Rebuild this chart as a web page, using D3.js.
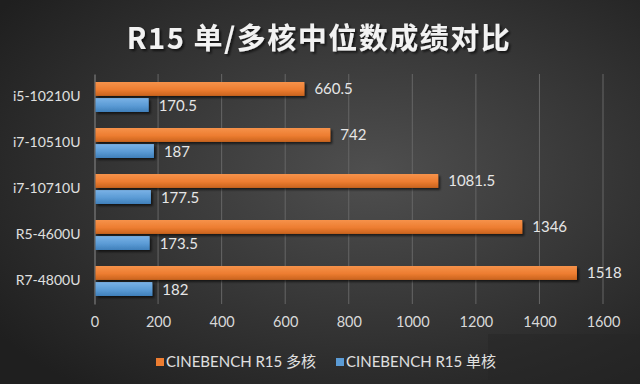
<!DOCTYPE html>
<html><head><meta charset="utf-8">
<script src="https://cdn.jsdelivr.net/npm/d3@7"></script>
<style>body{margin:0;background:#2a2a2a;}svg{display:block;}</style>
</head><body>
<svg id="c" width="640" height="384"></svg>
<script>
const categories = ["i5-10210U","i7-10510U","i7-10710U","R5-4600U","R7-4800U"];
const multiCore = [660.5, 742, 1081.5, 1346, 1518];
const singleCore = [170.5, 187, 177.5, 173.5, 182];
const multiLabels = ["660.5","742","1081.5","1346","1518"];
const singleLabels = ["170.5","187","177.5","173.5","182"];
const seriesNames = ["CINEBENCH R15 多核","CINEBENCH R15 单核"];
const xTicks = [0,200,400,600,800,1000,1200,1400,1600];
const title = "R15 单/多核中位数成绩对比";

const svg = d3.select("#c");
const W = 640, H = 384;
const defs = svg.append("defs");
const rg = defs.append("radialGradient").attr("id","bg").attr("cx","58%").attr("cy","45%").attr("r","72%");
rg.append("stop").attr("offset","0%").attr("stop-color","#4f4f4f");
rg.append("stop").attr("offset","100%").attr("stop-color","#1f1f1f");
const og = defs.append("linearGradient").attr("id","og").attr("x1",0).attr("y1",0).attr("x2",0).attr("y2",1);
og.append("stop").attr("offset","0%").attr("stop-color","#f6924a");
og.append("stop").attr("offset","55%").attr("stop-color","#ed7d31");
og.append("stop").attr("offset","100%").attr("stop-color","#c9631e");
const bgr = defs.append("linearGradient").attr("id","bgb").attr("x1",0).attr("y1",0).attr("x2",0).attr("y2",1);
bgr.append("stop").attr("offset","0%").attr("stop-color","#7ab2e6");
bgr.append("stop").attr("offset","55%").attr("stop-color","#5b9bd5");
bgr.append("stop").attr("offset","100%").attr("stop-color","#3f7fba");
const f = defs.append("filter").attr("id","sh").attr("x","-10%").attr("y","-30%").attr("width","130%").attr("height","190%");
f.append("feDropShadow").attr("dx",2).attr("dy",2).attr("stdDeviation",1.2).attr("flood-color","#000").attr("flood-opacity",0.6);

svg.append("rect").attr("width",W).attr("height",H).attr("fill","url(#bg)");
svg.append("rect").attr("x",488).attr("y",334).attr("width",152).attr("height",46).attr("fill","#262626").attr("opacity",0.5);

svg.append("text").attr("x",319).attr("y",49).attr("text-anchor","middle")
  .attr("font-family","'Noto Sans CJK SC','Noto Sans',sans-serif").attr("font-weight","bold")
  .attr("font-size",29).attr("letter-spacing",1.5).attr("fill","#f2f2f2").attr("filter","url(#sh)").text(title);

const x = d3.scaleLinear().domain([0,1600]).range([94.5,603]);
const y = d3.scaleBand().domain(categories).range([74,304]).paddingInner(0).paddingOuter(0);
const inner = d3.scaleBand().domain([0,1]).range([8,y.bandwidth()-8]).paddingInner(0.133);

const font = "Lato,'Open Sans',sans-serif";
svg.append("g").selectAll("line").data(xTicks.slice(1)).join("line")
  .attr("x1",d=>x(d)).attr("x2",d=>x(d)).attr("y1",74).attr("y2",304)
  .attr("stroke","#666").attr("stroke-width",1);

const xa = svg.append("g").attr("transform","translate(0,304)")
  .call(d3.axisBottom(x).tickValues(xTicks).tickFormat(d3.format("d")).tickSize(0).tickPadding(13));
xa.select(".domain").remove();
xa.selectAll("text").attr("font-family",font).attr("font-size",14.5).attr("fill","#d9d9d9");

const ya = svg.append("g").attr("transform","translate(94.5,0)")
  .call(d3.axisLeft(y).tickSize(0).tickPadding(14));
ya.select(".domain").attr("stroke","#8a8a8a");
ya.selectAll("text").attr("font-family",font).attr("font-size",14).attr("fill","#e0e0e0");

const rows = categories.map((c,i)=>({c, m:multiCore[i], s:singleCore[i], ml:multiLabels[i], sl:singleLabels[i]}));
const g = svg.append("g");
g.selectAll(".m").data(rows).join("rect").attr("class","m")
  .attr("x",x(0)+1).attr("y",d=>y(d.c)+inner(0)).attr("height",inner.bandwidth())
  .attr("width",d=>x(d.m)-x(0)-1).attr("fill","url(#og)").attr("filter","url(#sh)");
g.selectAll(".s").data(rows).join("rect").attr("class","s")
  .attr("x",x(0)+1).attr("y",d=>y(d.c)+inner(1)).attr("height",inner.bandwidth())
  .attr("width",d=>x(d.s)-x(0)-1).attr("fill","url(#bgb)").attr("filter","url(#sh)");
g.selectAll(".ml").data(rows).join("text").attr("class","ml")
  .attr("x",d=>x(d.m)+10).attr("y",d=>y(d.c)+inner(0)+inner.bandwidth()/2).attr("dy","0.35em")
  .attr("font-family",font).attr("font-size",15).attr("fill","#e6e6e6").text(d=>d.ml);
g.selectAll(".sl").data(rows).join("text").attr("class","sl")
  .attr("x",d=>x(d.s)+10).attr("y",d=>y(d.c)+inner(1)+inner.bandwidth()/2).attr("dy","0.4em")
  .attr("font-family",font).attr("font-size",15).attr("fill","#e6e6e6").text(d=>d.sl);

const lg = svg.append("g").attr("transform","translate(0,362)");
const colors = ["#ed7d31","#5b9bd5"];
const lx = [156,336];
seriesNames.forEach((n,i)=>{
  lg.append("rect").attr("x",lx[i]).attr("y",-4).attr("width",8).attr("height",8).attr("fill",colors[i]);
  lg.append("text").attr("x",lx[i]+10).attr("y",0).attr("dy","0.35em")
    .attr("font-family","Lato,'Noto Sans CJK SC',sans-serif").attr("font-size",15).attr("fill","#e0e0e0").text(n);
});
</script>
</body></html>
